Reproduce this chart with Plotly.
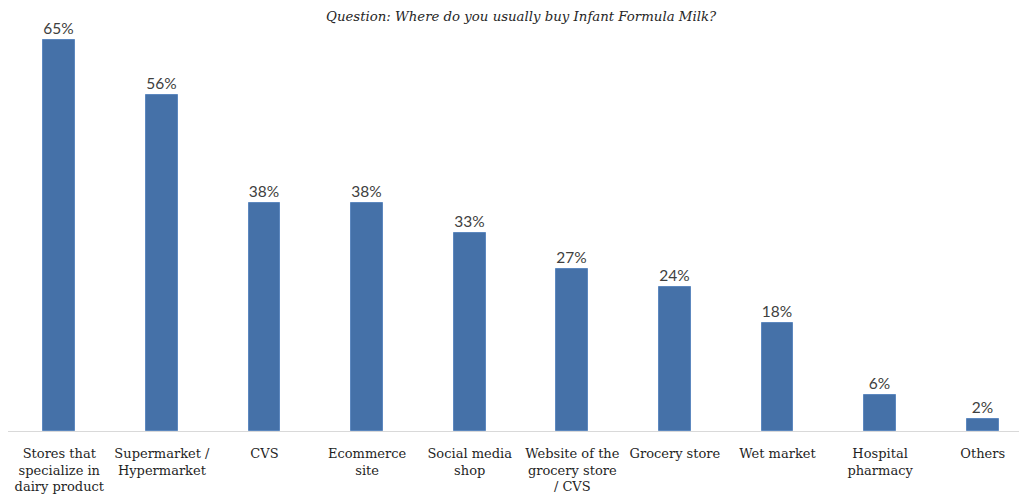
import plotly.graph_objects as go

# Survey responses: where infant formula milk is usually bought
categories = [
    "Stores that<br>specialize in<br>dairy product",
    "Supermarket /<br>Hypermarket",
    "CVS",
    "Ecommerce<br>site",
    "Social media<br>shop",
    "Website of the<br>grocery store<br>/ CVS",
    "Grocery store",
    "Wet market",
    "Hospital<br>pharmacy",
    "Others",
]
shares = [65, 56, 38, 38, 33, 27, 24, 18, 6, 2]
labels = [f"{v}%" for v in shares]

positions = list(range(len(categories)))

BAR = "#4571a8"
TEXT = "#404040"

fig = go.Figure(
    go.Bar(
        x=positions,
        y=shares,
        width=0.31,
        marker=dict(color=BAR, line=dict(color="#5d88bf", width=1)),
        text=labels,
        textposition="outside",
        textfont=dict(family="Lato, sans-serif", size=15.5, color=TEXT),
        cliponaxis=False,
    )
)

fig.update_layout(
    width=1019,
    height=497,
    margin=dict(l=8, r=0, t=20, b=66),
    paper_bgcolor="white",
    plot_bgcolor="white",
    showlegend=False,
    bargap=0,
    annotations=[
        dict(
            text="<i>Question: Where do you usually buy Infant Formula Milk?</i>",
            xref="paper", yref="paper", x=0.508, y=1.0, yshift=4,
            xanchor="center", yanchor="middle",
            showarrow=False,
            font=dict(family="DejaVu Serif, serif", size=13.3, color="#262626"),
        )
    ],
)

fig.update_xaxes(
    tickmode="array",
    tickvals=positions,
    ticktext=categories,
    tickangle=0,
    range=[-0.5, 9.354],
    showgrid=False,
    zeroline=False,
    showline=True,
    linecolor="#d9d9d9",
    linewidth=1,
    ticks="",
    ticklabelstandoff=10,
    tickfont=dict(family="DejaVu Serif, serif", size=13, color="#1f1f1f"),
    fixedrange=True,
)
fig.update_yaxes(
    range=[0, 68.4],
    visible=False,
    showgrid=False,
    zeroline=False,
    fixedrange=True,
)

fig.write_html("out.html", config={"displayModeBar": False})
